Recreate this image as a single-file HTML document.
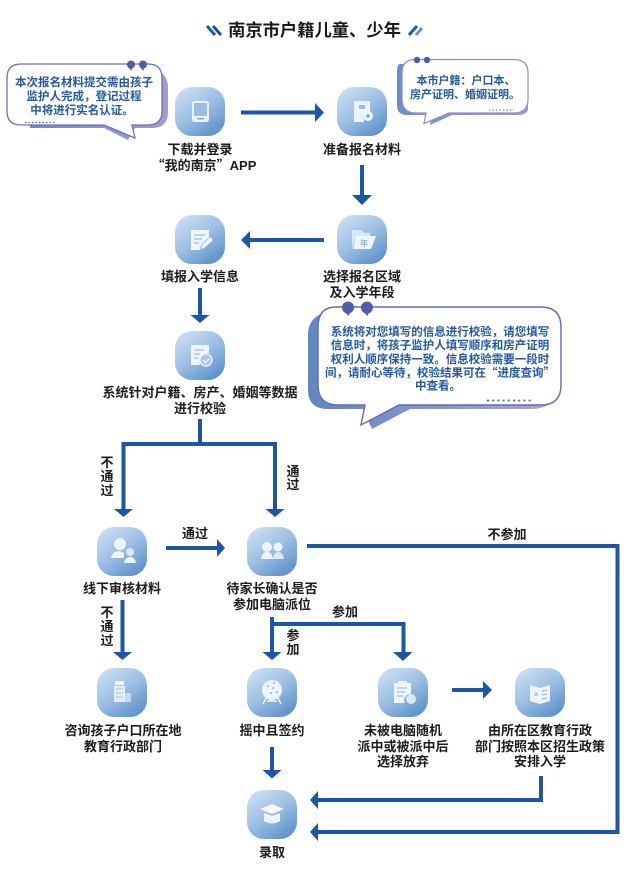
<!DOCTYPE html>
<html lang="zh-CN"><head><meta charset="utf-8"><title>南京市户籍儿童、少年</title>
<style>
html,body{margin:0;padding:0;background:#fff;width:630px;height:887px;overflow:hidden}
svg{display:block}
text{font-family:"Noto Sans CJK SC","Liberation Sans",sans-serif;}
.l{font-size:13px;font-weight:700;fill:#1c1c1c;text-anchor:middle}
.b{font-size:11.5px;font-weight:700;fill:#2358a3;text-anchor:middle}
.la{font-family:"Liberation Sans",sans-serif}
</style></head><body>
<svg width="630" height="887" viewBox="0 0 630 887" xmlns="http://www.w3.org/2000/svg">
<defs>
<linearGradient id="g" x1="0.1" y1="0" x2="0.8" y2="1"><stop offset="0" stop-color="#cfe1f4"/><stop offset="0.5" stop-color="#9dbfe3"/><stop offset="1" stop-color="#5a90cb"/></linearGradient>
<linearGradient id="s" x1="0" y1="0" x2="1" y2="0"><stop offset="0" stop-color="#5f86c6"/><stop offset="1" stop-color="#b99fd0"/></linearGradient>
<linearGradient id="s2" x1="0" y1="0" x2="1" y2="0"><stop offset="0" stop-color="#6f8ccb"/><stop offset="1" stop-color="#a39ad0"/></linearGradient>
<rect id="ic" width="50" height="49" rx="17" fill="url(#g)"/>
</defs>
<rect width="630" height="887" fill="#fff"/>

<!-- title -->
<text x="314.500" y="36" font-size="17.300" font-weight="700" fill="#1a1a1a" text-anchor="middle">南京市户籍儿童、少年</text>
<g stroke-width="3" fill="none"><path d="M207 26L215 35" stroke="#2358a3"/><path d="M213 26L221 35" stroke="#1f4f9a"/><path d="M409 35L417 26" stroke="#2358a3"/><path d="M416 35L422 28" stroke="#6b93c9"/></g>

<!-- bubble 1 -->
<path d="M30 70H150Q168 70 168 88V112Q168 128 152 128H135L128 140L104 128H30Z" fill="url(#s2)"/>
<path d="M21 64H148Q162 64 162 78V111Q162 125 148 125H132L135 138L104 125H21Q7 125 7 111V78Q7 64 21 64Z" fill="#fff" stroke="#6474b4" stroke-width="1.300"/>
<circle cx="131" cy="64.500" r="4" fill="#4f5ca6"/><circle cx="143" cy="64.500" r="4" fill="#4f5ca6"/>
<path d="M128 67l3.500 4 0.500-4zM140 67l3.500 4 0.500-4z" fill="#4f5ca6"/>
<line x1="25" y1="122.500" x2="55" y2="122.500" stroke="#4a68aa" stroke-width="1.200" stroke-dasharray="1.500 2"/>
<text class="b" x="84" y="86">本次报名材料提交需由孩子</text>
<text class="b" x="84" y="100">监护人完成，登记过程</text>
<text class="b" x="82" y="114">中将进行实名认证。</text>

<!-- bubble 2 -->
<path d="M412 64H400Q397 64 397 72V105Q397 115 407 115H432L430 125L452 115H518Q526 115 528 110V90Z" fill="url(#s2)"/>
<path d="M415 59.500H514Q528 59.500 528 73V99Q528 113 514 113H449L424 123.500L426 113H416Q402 113 402 99V73Q402 59.500 415 59.500Z" fill="#fff" stroke="#8a8fc6" stroke-width="1.200"/>
<circle cx="417" cy="60" r="3.200" fill="#4f5ca6"/><circle cx="427" cy="60" r="3.200" fill="#4f5ca6"/>
<line x1="489" y1="110" x2="514" y2="110" stroke="#4a68aa" stroke-width="1.100" stroke-dasharray="1.500 2"/>
<text class="b" x="466" y="84" style="font-size:11px">本市户籍：户口本、</text>
<text class="b" x="465" y="98" style="font-size:11px">房产证明、婚姻证明。</text>

<!-- bubble 3 -->
<path d="M328 312Q308 316 308 335V390Q308 409 328 409H363L372 429L410 409H530Q545 409 552 402V340Z" fill="url(#s)"/>
<path d="M336 307H541Q561 307 561 327V385Q561 405 541 405H399L361 425L365 405H338Q318 405 318 385V327Q318 307 336 307Z" fill="#fff" stroke="#5f6db2" stroke-width="1.400"/>
<circle cx="348" cy="307.500" r="6" fill="#4f5ca6"/><circle cx="367" cy="307.500" r="6" fill="#4f5ca6"/>
<path d="M343 311l6 5 1-5zM362 311l6 5 1-5z" fill="#4f5ca6"/>
<line x1="487" y1="400.500" x2="533" y2="400.500" stroke="#4a68aa" stroke-width="1.800" stroke-dasharray="2 3.200"/>
<text class="b" x="440" y="335.500">系统将对您填写的信息进行校验，请您填写</text>
<text class="b" x="440" y="349">信息时，将孩子监护人填写顺序和房产证明</text>
<text class="b" x="440" y="363">权利人顺序保持一致。信息校验需要一段时</text>
<text class="b" x="440" y="376.500">间，请耐心等待，校验结果可在“进度查询”</text>
<text class="b" x="438" y="389.500">中查看。</text>

<!-- connectors -->
<g stroke="#1c56a5" stroke-width="4" fill="none">
<path d="M241 112.500H316"/>
<path d="M362 165V197"/>
<path d="M324 240H249"/>
<path d="M200 288V316"/>
<path d="M200 419V444M123.500 510V444H275V510"/>
<path d="M166 548H218"/>
<path d="M122.500 600V653"/>
<path d="M272 617V653M272 624H403.500V653"/>
<path d="M307 546H617.500V832H317"/>
<path d="M541 776V800H317"/>
<path d="M452 690H484"/>
<path d="M272 747V771"/>
</g>
<g fill="#1c56a5">
<path d="M315 103L324 112.500L315 122Z"/>
<path d="M352 195H372L362 205Z"/>
<path d="M250 231V249L241 240Z"/>
<path d="M190.500 315H209.500L200 323Z"/>
<path d="M114 509H133L123.500 517Z"/>
<path d="M265.500 509H284.500L275 517Z"/>
<path d="M217 539V557L225 548Z"/>
<path d="M113 652H132L122.500 660Z"/>
<path d="M262.500 652H281.500L272 660Z"/>
<path d="M393 652H412.500L403 661Z"/>
<path d="M483 681V699L492 690Z"/>
<path d="M262.500 770H281.500L272 778.500Z"/>
<path d="M318 791V809L310 800Z"/>
<path d="M318 823V841L310 832Z"/>
</g>

<!-- connector labels -->
<g font-size="13" font-weight="700" fill="#1c1c1c" text-anchor="middle">
<text x="107" y="467">不</text><text x="107" y="481">通</text><text x="107" y="495">过</text>
<text x="293" y="476">通</text><text x="293" y="489">过</text>
<text x="195" y="538">通过</text>
<text x="107" y="617">不</text><text x="107" y="631">通</text><text x="107" y="645">过</text>
<text x="293" y="640">参</text><text x="293" y="654">加</text>
<text x="345" y="616.500">参加</text>
<text x="507" y="539">不参加</text>
</g>

<!-- icons -->
<g transform="translate(175,87)"><use href="#ic"/><rect x="17" y="14" width="17" height="21" rx="2.500" fill="#eaf2fb"/><rect x="19" y="16" width="13" height="13" fill="#9cbde2"/><rect x="22" y="31" width="7" height="1.500" fill="#7da5d3"/></g>
<g transform="translate(337,87)"><use href="#ic"/><path d="M17 14H33V25A8 8 0 0 0 27 35H17Z" fill="#eaf2fb"/><circle cx="31" cy="29" r="5" fill="#eaf2fb"/><path d="M22 18h6v4h-6z" fill="#9cbde2"/><circle cx="31" cy="29" r="1.800" fill="#7da5d3"/></g>
<g transform="translate(337,215)"><use href="#ic"/><path d="M15 15H24L27 18H33V21H19L15 33Z" fill="#d8e6f5"/><path d="M19 21H39L34 34H16Z" fill="#eef4fb"/><text x="27" y="31" font-size="8" font-weight="700" fill="#8fb3dc" text-anchor="middle">年</text></g>
<g transform="translate(175,215)"><use href="#ic"/><path d="M16 15H34V22L26 30L25 35H16Z" fill="#eef4fb"/><path d="M19 20h11M19 24h8M19 28h5" stroke="#9cbde2" stroke-width="1.300"/><path d="M35 22L38 25L29 33L26 34L27 30Z" fill="#eef4fb"/></g>
<g transform="translate(175,331)"><use href="#ic"/><path d="M16 14H34V22A9 9 0 0 0 25 34H16Z" fill="#eef4fb"/><path d="M19 19h10M19 23h6M19 27h4" stroke="#9cbde2" stroke-width="1.300"/><circle cx="31" cy="29" r="6" fill="#a9c6e6" stroke="#eef4fb" stroke-width="1.300"/><path d="M28 29l2.500 2.500 4-4" stroke="#eef4fb" stroke-width="1.400" fill="none"/></g>
<g transform="translate(97,527)"><use href="#ic"/><circle cx="23" cy="17" r="6" fill="#eef4fb"/><path d="M14 31Q15 24 23 24L27 26V31Z" fill="#eef4fb"/><circle cx="33" cy="25" r="4" fill="#dbe8f6"/><path d="M27 36Q28 30 33 30Q38 30 39 36Z" fill="#eef4fb"/></g>
<g transform="translate(247,527)"><use href="#ic"/><circle cx="20" cy="20" r="5" fill="#eef4fb"/><circle cx="31" cy="20" r="4.500" fill="#eef4fb"/><path d="M14 32Q15 25 20 25Q25 25 26 32Z" fill="#eef4fb"/><path d="M26 32Q27 25 31 25Q36 25 37 32Z" fill="#dbe8f6"/></g>
<g transform="translate(97,668)"><use href="#ic"/><rect x="18" y="13" width="9" height="4" fill="#eef4fb"/><rect x="17" y="18" width="11" height="16" fill="#e4eef9"/><rect x="28" y="25" width="6" height="9" fill="#c4d9ef"/><path d="M19 21h7M19 25h7M19 29h7" stroke="#a9c6e6" stroke-width="1.400" stroke-dasharray="2 1"/></g>
<g transform="translate(247,668)"><use href="#ic"/><circle cx="25" cy="22" r="10" fill="#eef4fb"/><g fill="#8fb3dc"><circle cx="21" cy="18" r="1"/><circle cx="26" cy="20" r="1"/><circle cx="30" cy="24" r="1"/><circle cx="24" cy="25" r="1"/><circle cx="27" cy="15" r="1"/></g><path d="M19 30L16 36M31 30L34 36M20 33H30" stroke="#eef4fb" stroke-width="1.400"/></g>
<g transform="translate(378,668)"><use href="#ic"/><path d="M16 15H33V26A6 6 0 0 0 27 35H16Z" fill="#eef4fb"/><rect x="20" y="13" width="9" height="3" fill="#eef4fb"/><path d="M19 20h10M19 24h8M19 28h6" stroke="#9cbde2" stroke-width="1.300"/><circle cx="33" cy="31" r="5" fill="#dbe8f6"/></g>
<g transform="translate(515,668)"><use href="#ic"/><path d="M15 17L25 20L35 17V33L25 36L15 33Z" fill="#eef4fb"/><path d="M20 27l1-2 1 2z M27 23l5-1M27 27l5-1M27 31l5-1" stroke="#9cbde2" stroke-width="1.300"/></g>
<g transform="translate(247,790)"><use href="#ic"/><path d="M13 19L25 14L37 19L25 24Z" fill="#f3f7fc"/><path d="M17 23L25 26L33 23V31Q25 36 17 31Z" fill="#eef4fb"/></g>

<!-- node labels -->
<text class="l" x="200" y="154">下载并登录</text>
<text class="l" x="204" y="170">“我的南京”<tspan class="la">APP</tspan></text>
<text class="l" x="362" y="154">准备报名材料</text>
<text class="l" x="200" y="281">填报入学信息</text>
<text class="l" x="362" y="281">选择报名区域</text>
<text class="l" x="362" y="297">及入学年段</text>
<text class="l" x="200" y="397">系统针对户籍、房产、婚姻等数据</text>
<text class="l" x="200" y="413">进行校验</text>
<text class="l" x="122" y="593">线下审核材料</text>
<text class="l" x="272" y="593">待家长确认是否</text>
<text class="l" x="272" y="609">参加电脑派位</text>
<text class="l" x="123" y="735">咨询孩子户口所在地</text>
<text class="l" x="123" y="751">教育行政部门</text>
<text class="l" x="272" y="735">摇中且签约</text>
<text class="l" x="403" y="735">未被电脑随机</text>
<text class="l" x="403" y="751">派中或被派中后</text>
<text class="l" x="403" y="766">选择放弃</text>
<text class="l" x="540" y="735">由所在区教育行政</text>
<text class="l" x="540" y="751">部门按照本区招生政策</text>
<text class="l" x="540" y="766">安排入学</text>
<text class="l" x="272" y="857">录取</text>
</svg>
</body></html>
